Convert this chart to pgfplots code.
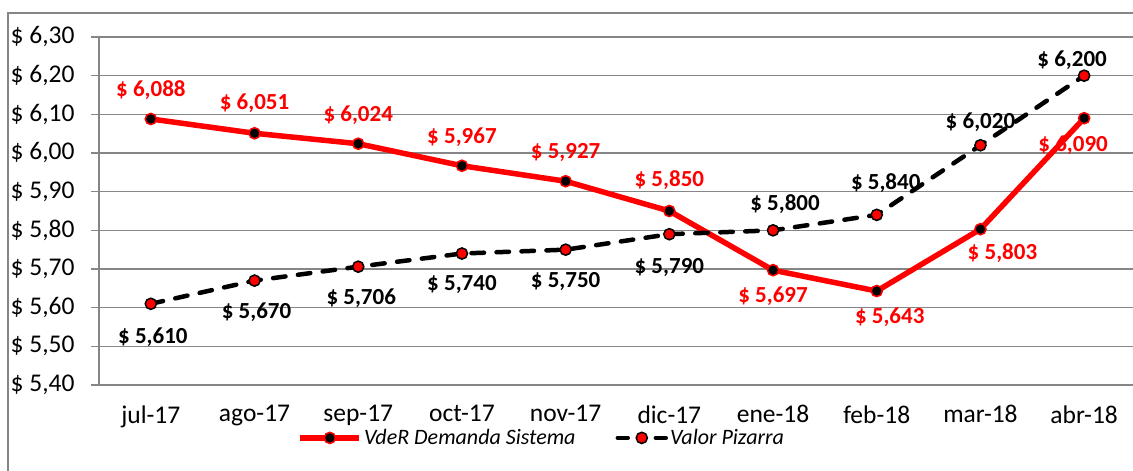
\documentclass[border=0pt]{standalone}
\usepackage{pgfplots}
\pgfplotsset{compat=1.18}
\usepackage{pgfplotstable}
\usepackage{fontspec}
\setmainfont{Carlito}
\definecolor{gridgray}{RGB}{134,134,134}
\definecolor{vred}{RGB}{255,0,0}

\pgfplotsset{
  redleg/.style={legend image code/.code={\draw[mark repeat=2,mark phase=2,##1] plot coordinates {(0pt,0pt) (29.5pt,0pt) (59pt,0pt)};}},
  blackleg/.style={legend image code/.code={
    \draw[##1, solid, mark=none] (2pt,0pt) -- (12pt,0pt);
    \draw[##1, solid, mark=none] (40pt,0pt) -- (50pt,0pt);
    \draw[##1] plot coordinates {(26pt,0pt)};}},
}

\pgfplotstableread{
x y lab dx dy
0 6.088 6,088 0 29
1 6.051 6,051 0 30
2 6.024 6,024 0 29
3 5.967 5,967 0 29
4 5.927 5,927 0 29
5 5.850 5,850 0 31
6 5.697 5,697 0 -26
7 5.643 5,643 13 -26
8 5.803 5,803 22 -24
9 6.090 6,090 -11 -27
}\redtab

\pgfplotstableread{
x y lab dx dy
0 5.610 5,610 2 -33
1 5.670 5,670 2 -32
2 5.706 5,706 3 -32
3 5.740 5,740 0 -31
4 5.750 5,750 0 -32
5 5.790 5,790 0 -33
6 5.800 5,800 12 26
7 5.840 5,840 9 32
8 6.020 6,020 0 23
9 6.200 6,200 -12 15
}\blacktab

\begin{document}
\begin{tikzpicture}
\useasboundingbox (0pt,0pt) rectangle (1133pt,471pt);
\draw[gridgray, line width=1.5pt] (8pt,-10pt) -- (8pt,458pt) -- (1150pt,458pt);
\begin{axis}[
  at={(99pt,86pt)}, anchor=south west,
  scale only axis, width=1037pt, height=348pt,
  xmin=-0.5, xmax=9.5, ymin=5.4, ymax=6.3,
  axis x line*=bottom, axis y line*=left,
  axis line style={gridgray, line width=1.5pt, -},
  ytick={5.4,5.5,5.6,5.7,5.8,5.9,6.0,6.1,6.2,6.3},
  ymajorgrids, grid style={gridgray, line width=1.5pt},
  tick align=outside, major tick length=8pt, minor tick length=8pt,
  tick style={gridgray, line width=1.5pt},
  xtick={0,...,9},
  xticklabels={jul-17,ago-17,sep-17,oct-17,nov-17,dic-17,ene-18,feb-18,mar-18,abr-18},
  xtick style={draw=none},
  minor xtick={-0.5,0.5,...,9.5},
  minor tick style={gridgray, line width=1.5pt},
  yticklabel={\$ \pgfmathprintnumber[fixed,fixed zerofill,precision=2,use comma]{\tick}},
  /pgf/number format/assume math mode=true,
  tick label style={font=\fontsize{25.5}{30}\selectfont, text=black},
  yticklabel style={xshift=-13pt},
  xticklabel style={yshift=-9pt},
  clip=false,
  legend style={at={(0.427,-0.152)}, anchor=center, legend columns=2, draw=none, fill=none,
    font=\itshape\fontsize{22}{26}\selectfont,
    /tikz/every even column/.append style={column sep=38pt}},
  legend cell align=left,
]
\addplot[vred, line width=5.5pt, mark=*, mark size=5.6pt,
  mark options={fill=black, draw=vred, line width=1.5pt},
  point meta=explicit symbolic,
  nodes near coords={\$ \pgfplotspointmeta},
  visualization depends on={\thisrow{dx} \as \dx},
  visualization depends on={\thisrow{dy} \as \dy},
  every node near coord/.append style={anchor=center, xshift=\dx pt, yshift=\dy pt, text=vred, font=\bfseries\fontsize{23}{27}\selectfont},
  redleg
] table[x=x, y=y, meta=lab] {\redtab};
\addlegendentry{VdeR Demanda Sistema}
\addplot[black, line width=4.5pt, line cap=round, dash pattern=on 12.5pt off 12.5pt, mark=*, mark size=5.6pt,
  mark options={fill=vred, draw=black, line width=1.5pt, solid},
  point meta=explicit symbolic,
  nodes near coords={\$ \pgfplotspointmeta},
  visualization depends on={\thisrow{dx} \as \dx},
  visualization depends on={\thisrow{dy} \as \dy},
  every node near coord/.append style={anchor=center, xshift=\dx pt, yshift=\dy pt, text=black, font=\bfseries\fontsize{23}{27}\selectfont},
  blackleg
] table[x=x, y=y, meta=lab] {\blacktab};
\addlegendentry{Valor Pizarra}
\end{axis}
\end{tikzpicture}
\end{document}
